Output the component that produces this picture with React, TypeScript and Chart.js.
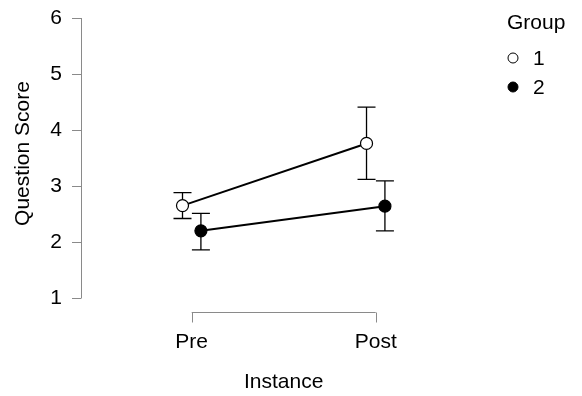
import React, { useEffect, useRef } from 'react';
import { Chart, registerables } from 'chart.js';

Chart.register(...registerables);

const categories = ['Pre', 'Post'];
const groupTitle = 'Group';
const groupLabels = ['1', '2'];
const group1Mean = [2.65, 3.76];
const group1Lower = [2.42, 3.12];
const group1Upper = [2.88, 4.41];
const group2Mean = [2.2, 2.64];
const group2Lower = [1.86, 2.2];
const group2Upper = [2.51, 3.09];
const yTicks = [1, 2, 3, 4, 5, 6];
const yTitle = 'Question Score';
const xTitle = 'Instance';

const FONT = '"Liberation Sans", Arial, Helvetica, sans-serif';
const FONT_SIZE = 21;
const DODGE = 0.05;

const rPlot = {
  id: 'rPlot',
  beforeDatasetsDraw(chart: any) {
    const { ctx } = chart;
    const x = chart.scales.x;
    const y = chart.scales.y;
    ctx.save();
    ctx.strokeStyle = '#000';
    ctx.lineWidth = 1.3;
    chart.data.datasets.forEach((ds: any) => {
      ds.data.forEach((p: any, i: number) => {
        const px = x.getPixelForValue(p.x);
        const top = y.getPixelForValue(ds.upper[i]);
        const bot = y.getPixelForValue(ds.lower[i]);
        ctx.beginPath();
        ctx.moveTo(px, top);
        ctx.lineTo(px, bot);
        ctx.moveTo(px - 9, top);
        ctx.lineTo(px + 9, top);
        ctx.moveTo(px - 9, bot);
        ctx.lineTo(px + 9, bot);
        ctx.stroke();
      });
    });
    ctx.restore();
  },
  afterDraw(chart: any) {
    const { ctx } = chart;
    const x = chart.scales.x;
    const y = chart.scales.y;
    ctx.save();
    // Y axis (range frame)
    const ax = x.left;
    ctx.strokeStyle = '#8a8a8a';
    ctx.lineWidth = 1;
    ctx.beginPath();
    ctx.moveTo(ax + 0.5, y.getPixelForValue(yTicks[0]));
    ctx.lineTo(ax + 0.5, y.getPixelForValue(yTicks[yTicks.length - 1]));
    yTicks.forEach((t) => {
      const py = Math.round(y.getPixelForValue(t)) + 0.5;
      ctx.moveTo(ax + 0.5, py);
      ctx.lineTo(ax - 9, py);
    });
    ctx.stroke();
    ctx.fillStyle = '#000';
    ctx.font = `${FONT_SIZE}px ${FONT}`;
    ctx.textAlign = 'right';
    ctx.textBaseline = 'middle';
    yTicks.forEach((t) => {
      ctx.fillText(String(t), ax - 19, y.getPixelForValue(t));
    });
    // Y title
    ctx.save();
    ctx.translate(23, y.getPixelForValue(3.58));
    ctx.rotate(-Math.PI / 2);
    ctx.textAlign = 'center';
    ctx.fillText(yTitle, 0, 0);
    ctx.restore();
    // X axis (range frame bracket)
    const bx = Math.round(y.getPixelForValue(yTicks[0]) + 14) + 0.5;
    const x0 = x.getPixelForValue(0);
    const x1 = x.getPixelForValue(categories.length - 1);
    ctx.beginPath();
    ctx.moveTo(x0, bx);
    ctx.lineTo(x1, bx);
    categories.forEach((_, i) => {
      const px = Math.round(x.getPixelForValue(i)) + 0.5;
      ctx.moveTo(px, bx);
      ctx.lineTo(px, bx + 10);
    });
    ctx.stroke();
    ctx.textAlign = 'center';
    categories.forEach((c, i) => {
      ctx.fillText(c, x.getPixelForValue(i), bx + 30);
    });
    ctx.fillText(xTitle, x.getPixelForValue((categories.length - 1) / 2), bx + 70);
    // Legend
    ctx.textAlign = 'left';
    ctx.fillText(groupTitle, 507, 23);
    chart.data.datasets.forEach((ds: any, i: number) => {
      const ly = 58 + i * 29;
      ctx.beginPath();
      ctx.arc(513, ly, 5, 0, Math.PI * 2);
      ctx.fillStyle = ds.pointBackgroundColor;
      ctx.fill();
      ctx.strokeStyle = '#000';
      ctx.lineWidth = 1;
      ctx.stroke();
      ctx.fillStyle = '#000';
      ctx.fillText(groupLabels[i], 533, ly + 1);
    });
    ctx.restore();
  },
};

export default function App() {
  const ref = useRef<HTMLCanvasElement>(null);
  useEffect(() => {
    document.body.style.margin = '0';
    const mk = (mean: number[], off: number) =>
      mean.map((v, i) => ({ x: i + off, y: v }));
    const chart = new Chart(ref.current as HTMLCanvasElement, {
      type: 'line',
      data: {
        datasets: [
          {
            label: groupLabels[0],
            data: mk(group1Mean, -DODGE),
            lower: group1Lower,
            upper: group1Upper,
            borderColor: '#000',
            borderWidth: 2,
            pointRadius: 6,
            pointBackgroundColor: '#fff',
            pointBorderColor: '#000',
            pointBorderWidth: 1.2,
            fill: false,
            order: 1,
          } as any,
          {
            label: groupLabels[1],
            data: mk(group2Mean, DODGE),
            lower: group2Lower,
            upper: group2Upper,
            borderColor: '#000',
            borderWidth: 2,
            pointRadius: 6,
            pointBackgroundColor: '#000',
            pointBorderColor: '#000',
            pointBorderWidth: 1.2,
            fill: false,
            order: 0,
          } as any,
        ],
      },
      options: {
        responsive: false,
        animation: false,
        devicePixelRatio: 1,
        layout: { padding: { left: 81, right: 122, top: 18, bottom: 98 } },
        scales: {
          x: { type: 'linear', display: false, min: -0.6016, max: 1.458 },
          y: { type: 'linear', display: false, min: 1, max: 6 },
        },
        plugins: { legend: { display: false }, tooltip: { enabled: false } },
      },
      plugins: [rPlot],
    });
    return () => chart.destroy();
  }, []);
  return (
    <div style={{ width: 582, height: 396 }}>
      <canvas ref={ref} width={582} height={396} />
    </div>
  );
}
